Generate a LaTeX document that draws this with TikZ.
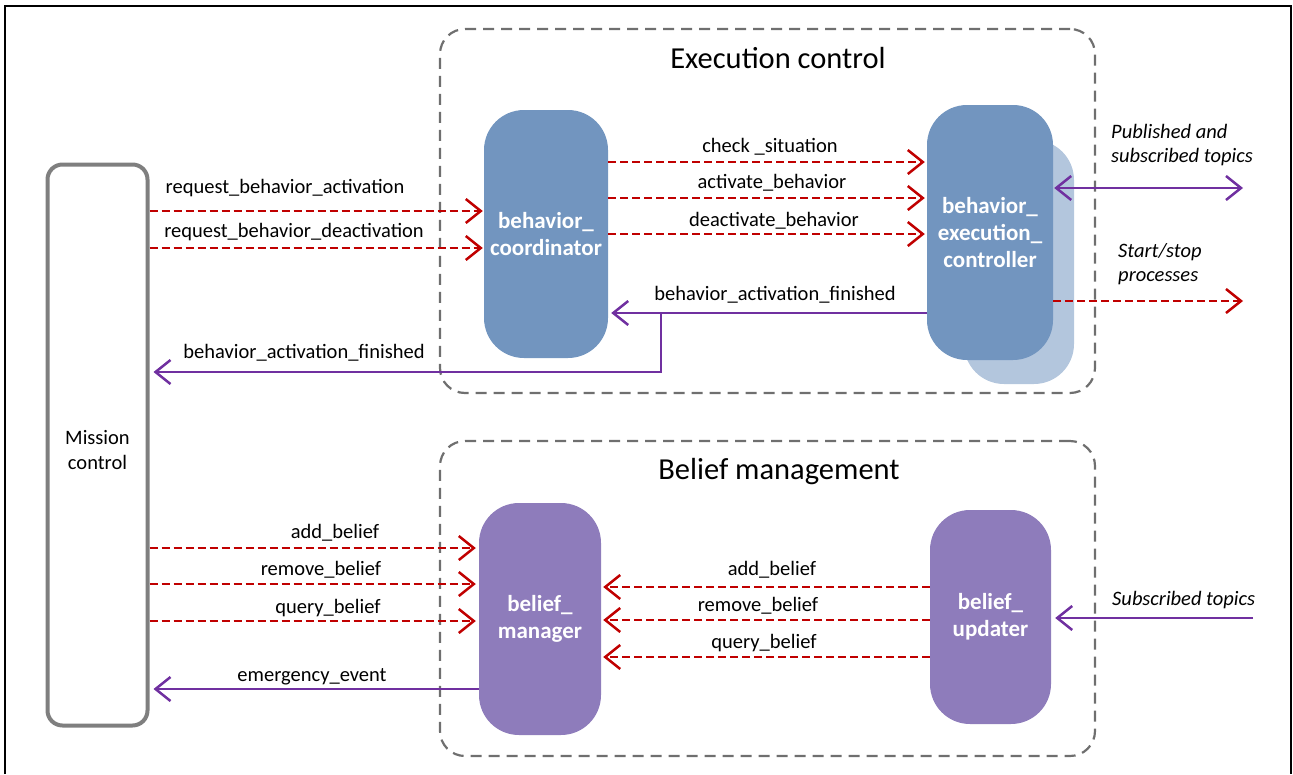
\documentclass[tikz,border=0pt]{standalone}
\usepackage{fontspec}
\setmainfont{Carlito}
\usetikzlibrary{arrows.meta}

\definecolor{msgred}{HTML}{C00000}
\definecolor{topicpurple}{HTML}{7030A0}
\definecolor{execblue}{HTML}{7295BF}
\definecolor{execshade}{HTML}{B3C6DD}
\definecolor{beliefpurple}{HTML}{8E7CBB}
\definecolor{groupgray}{HTML}{6F6F6F}
\definecolor{mcgray}{HTML}{7F7F7F}

\begin{document}
\begin{tikzpicture}[x=1pt,y=-1pt,
  barb/.tip={Straight Barb[length=15pt,width=24pt,line width=2.5pt]},
  tip/.style={-barb},
  reqline/.style={tip, draw=msgred, line width=2.9pt, dash pattern=on 8pt off 4pt},
  topicline/.style={tip, draw=topicpurple, line width=2.4pt},
  grp/.style={draw=groupgray, line width=2.2pt, dash pattern=on 11pt off 7pt,
    rounded corners=25pt, inner sep=0pt},
  grptitle/.style={font=\fontsize{30.5}{36}\selectfont, inner sep=0pt},
  mcbox/.style={draw=mcgray, line width=4pt, rounded corners=15pt, fill=white},
  mctext/.style={align=center, inner sep=0pt, font=\fontsize{20.5}{25}\selectfont},
  proc/.style={rounded corners=40pt, text=white, align=center, inner sep=0pt,
    font=\fontsize{23}{27}\selectfont\bfseries},
  lbl/.style={font=\fontsize{20.5}{24}\selectfont, inner sep=0pt,
    text height=14pt, text depth=4pt},
  note/.style={font=\fontsize{20.5}{24}\selectfont\itshape, inner sep=0pt,
    align=left, anchor=west},
]
\useasboundingbox (0,0) rectangle (1293,774);

% outer frame
\draw[line width=2pt] (5,774) -- (5,6) -- (1291,6) -- (1291,774);

% groups
\node[grp, minimum width=655pt, minimum height=364pt] (execgrp) at (767.5,211) {};
\node[grp, minimum width=655pt, minimum height=315pt] (beliefgrp) at (767.5,598.5) {};
\node[grptitle] (exectitle) at (778,58) {Execution control};
\node[grptitle] (belieftitle) at (779,472) {Belief management};

% mission control
\node[mcbox, minimum width=100pt, minimum height=561pt] (mc) at (97.5,445) {};
\node[mctext] (mclabel) at (97.5,450) {Mission\\control};

% execution control processes
\node[proc, fill=execblue, minimum width=124pt, minimum height=248pt] (bc) at (546,234)
  {behavior\_\\coordinator};
\node[proc, fill=execshade, minimum width=110pt, minimum height=244pt] (becshade) at (1019,262) {};
\node[proc, fill=execblue, minimum width=126pt, minimum height=255pt] (bec) at (990,232.5)
  {behavior\_\\execution\_\\controller};

% belief management processes
\node[proc, fill=beliefpurple, minimum width=122pt, minimum height=232pt] (bm) at (540,619)
  {belief\_\\manager};
\node[proc, fill=beliefpurple, minimum width=121pt, minimum height=214pt] (bu) at (990.5,617)
  {belief\_\\updater};

% mission control -> behavior coordinator
\draw[reqline, shorten >=1pt] (mc.east |- 0,211) -- (bc.west |- 0,211);
\node[lbl] (lreqact) at (285,188) {request\_behavior\_activation};
\draw[reqline, shorten >=1pt] (mc.east |- 0,248) -- (bc.west |- 0,248);
\node[lbl] (lreqdeact) at (294,232) {request\_behavior\_deactivation};

% behavior coordinator -> behavior execution controller
\draw[reqline, shorten >=2pt] (bc.east |- 0,162) -- (bec.west |- 0,162);
\node[lbl] (lcheck) at (770,147) {check \_situation};
\draw[reqline, shorten >=2pt] (bc.east |- 0,198) -- (bec.west |- 0,198);
\node[lbl] (lact) at (772,183) {activate\_behavior};
\draw[reqline, shorten >=2pt] (bc.east |- 0,234) -- (bec.west |- 0,234);
\node[lbl] (ldeact) at (774,221) {deactivate\_behavior};

% behavior activation finished, also forwarded to mission control
\coordinate (fork) at (661,313);
\draw[topicline, shorten >=3pt] (bec.west |- fork) -- (bc.east |- fork);
\node[lbl] (lbaf) at (775,295) {behavior\_activation\_finished};
\draw[topicline, shorten >=4pt] (fork) -- (661,372) -- (mc.east |- 0,372);
\node[lbl] (lbafmc) at (304,353) {behavior\_activation\_finished};

% behavior execution controller outputs
\coordinate (pubend) at (1243,188);
\draw[topicline, barb-barb, shorten <=1pt] (bec.east |- pubend) -- (pubend);
\node[note] (lpub) at (1111,145) {Published and\\subscribed topics};
\coordinate (procend) at (1243,301);
\draw[reqline] (bec.east |- procend) -- (procend);
\node[note] (lproc) at (1118,264.5) {Start/stop\\processes};

% mission control -> belief manager
\draw[reqline, shorten >=3pt] (mc.east |- 0,548) -- (bm.west |- 0,548);
\node[lbl] (laddmc) at (335,533) {add\_belief};
\draw[reqline, shorten >=3pt] (mc.east |- 0,584) -- (bm.west |- 0,584);
\node[lbl] (lremmc) at (321,570) {remove\_belief};
\draw[reqline, shorten >=3pt] (mc.east |- 0,621) -- (bm.west |- 0,621);
\node[lbl] (lqrymc) at (328,608) {query\_belief};
\draw[topicline, shorten >=4pt] (bm.west |- 0,689) -- (mc.east |- 0,689);
\node[lbl] (lemerg) at (312,676) {emergency\_event};

% belief updater -> belief manager
\draw[reqline, shorten >=2pt] (bu.west |- 0,587) -- (bm.east |- 0,587);
\node[lbl] (laddbu) at (772,570) {add\_belief};
\draw[reqline, shorten >=2pt] (bu.west |- 0,620) -- (bm.east |- 0,620);
\node[lbl] (lrembu) at (758,606) {remove\_belief};
\draw[reqline, shorten >=2pt] (bu.west |- 0,657) -- (bm.east |- 0,657);
\node[lbl] (lqrybu) at (764,643) {query\_belief};

% subscribed topics -> belief updater
\coordinate (substart) at (1253,618);
\draw[topicline, shorten >=4pt] (substart) -- (bu.east |- substart);
\node[note] (lsub) at (1112,600) {Subscribed topics};
\end{tikzpicture}
\end{document}
